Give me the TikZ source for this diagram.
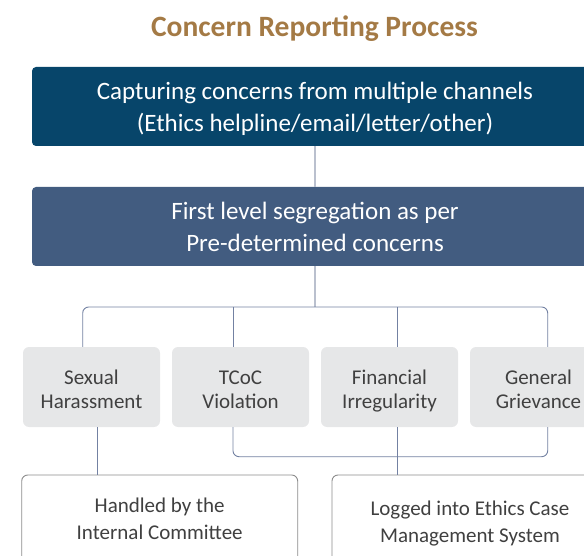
\documentclass[tikz,border=0pt]{standalone}
\usepackage{fontspec}
\setmainfont{Carlito}
\definecolor{titlec}{HTML}{A47A45}
\definecolor{boxone}{HTML}{07456A}
\definecolor{boxtwo}{HTML}{425C80}
\definecolor{catfill}{HTML}{E6E7E8}
\definecolor{cattext}{HTML}{404040}
\definecolor{lightln}{HTML}{BAC0CE}
\definecolor{brkln}{HTML}{7381A2}
\definecolor{outln}{HTML}{8C8C8C}
\newcommand\mytopstrut[1]{\rule{0pt}{#1}}
\begin{document}
\begin{tikzpicture}[x=1pt,y=-1pt,
  bigbox/.style={rounded corners=4pt, minimum width=566pt, minimum height=79pt, text=white, align=center, inner sep=0pt, font=\fontsize{25}{32}\selectfont},
  catbox/.style={rounded corners=6pt, fill=catfill, minimum width=137pt, minimum height=80pt, text=cattext, align=center, inner sep=0pt, font=\fontsize{21}{24}\selectfont},
  outbox/.style={rounded corners=6pt, draw=outln, line width=0.9pt, fill=white, minimum width=276pt, minimum height=120pt, inner sep=0pt},
  outtext/.style={text=cattext, align=center, inner sep=0pt, font=\fontsize{21}{27}\selectfont},
  lightconn/.style={draw=lightln, line width=1.5pt},
  brk/.style={draw=brkln, line width=0.9pt},
]
\useasboundingbox (0,0) rectangle (584,556);
\clip (0,0) rectangle (584,556);

\node[anchor=base, text=titlec, font=\bfseries\fontsize{29.5}{30}\selectfont] (title) at (314.5,36.5) {Concern Reporting Process};

\node[bigbox, fill=boxone] (cap) at (315,106.5) {\mytopstrut{28.5pt}Capturing concerns from multiple channels\\(Ethics helpline/email/letter/other)\strut};
\node[bigbox, fill=boxtwo] (seg) at (315,226.5) {\mytopstrut{28.5pt}First level segregation as per\\Pre-determined concerns\strut};

\node[catbox] (cat1) at (91.5,387) {\mytopstrut{26.8pt}Sexual\\Harassment\strut};
\node[catbox] (cat2) at (240.5,387) {\mytopstrut{26.8pt}TCoC\\Violation\strut};
\node[catbox] (cat3) at (389.5,387) {\mytopstrut{26.8pt}Financial\\Irregularity\strut};
\node[catbox] (cat4) at (538.5,387) {\mytopstrut{26.8pt}General\\Grievance\strut};

\node[outbox] (hand) at (159.7,535) {};
\node[outbox] (log) at (470,535) {};
\node[outtext] (handt) at (159.7,521) {\strut Handled by the\\Internal Committee\strut};
\node[outtext] (logt) at (470,524) {\strut Logged into Ethics Case\\Management System\strut};

\coordinate (xa) at (82.7,307);
\coordinate (xb) at (233,307);
\coordinate (xc) at (397.7,307);
\coordinate (xd) at (547.7,307);
\coordinate (xh) at (97.3,0);
\coordinate (yb) at (0,456.7);

\draw[lightconn] (cap.south) -- (seg.north);
\draw[lightconn] (seg.south) -- (seg.south |- xa);
\draw[brk, rounded corners=6pt] (xa |- cat1.north) -- (xa) -- (xd) -- (xd |- cat4.north);
\draw[brk] (xb) -- (xb |- cat2.north);
\draw[brk] (xc) -- (xc |- cat3.north);

\draw[brk] (xh |- cat1.south) -- (xh |- hand.north);
\draw[brk, rounded corners=6pt] (xb |- cat2.south) -- (xb |- yb) -- (xd |- yb) -- (xd |- cat4.south);
\draw[brk] (xc |- cat3.south) -- (xc |- log.north);
\end{tikzpicture}
\end{document}
